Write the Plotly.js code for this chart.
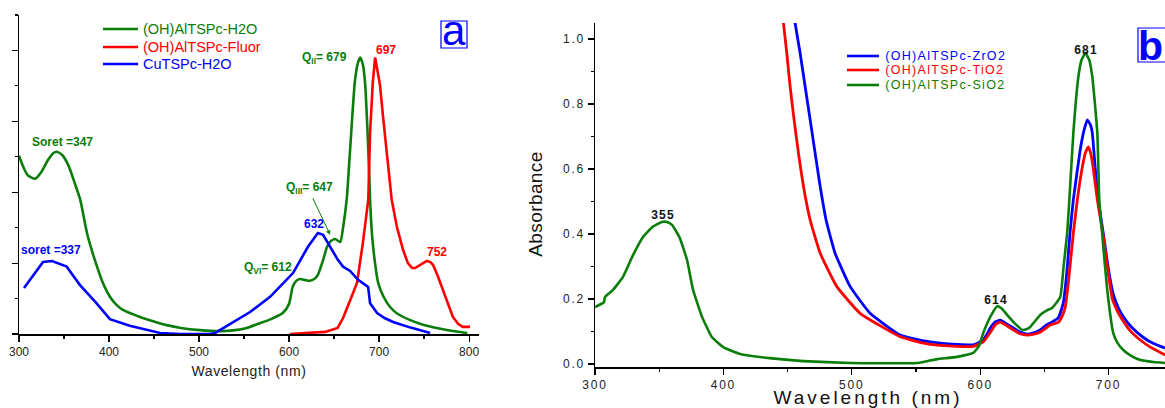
<!DOCTYPE html>
<html><head><meta charset="utf-8">
<script src="https://cdn.plot.ly/plotly-3.0.1.min.js"></script>
<style>
html,body{margin:0;padding:0;background:#fff;}
#chart{width:1165px;height:408px;}
.x2tick text, .y2tick text{letter-spacing:1.8px;}
.x2title{letter-spacing:3px; translate:-12px 0;}
.xtitle{letter-spacing:0.6px;}
.y2title{letter-spacing:0.4px; translate:-5px 9px;}
.annotation[data-index="12"] text, .annotation[data-index="13"] text, .annotation[data-index="14"] text{letter-spacing:1.3px;}
.annotation[data-index="9"] text, .annotation[data-index="10"] text, .annotation[data-index="11"] text{letter-spacing:1.2px;}
</style>
</head><body><div id="chart"></div>
<script>
// ---- Panel a ----
const aGreenX = [300,305,310,318,325,332,338,342,348,355,362,368,375.5,381,386.7,393,401,408,415.6,434.4,450,464,480,501,523,540,553,565,580,593,600,604,608,612,618,623,628,632,638,642,645.6,651,655,657,660,664,667.8,673,676,679,682,684.4,688,690,692,695,699,705,712,720,734,748,764,780,798];
const aGreenY = [0.503,0.47,0.447,0.438,0.458,0.49,0.51,0.514,0.505,0.475,0.425,0.379,0.285,0.235,0.19,0.145,0.105,0.083,0.068,0.048,0.035,0.025,0.017,0.011,0.008,0.011,0.017,0.028,0.042,0.059,0.085,0.133,0.15,0.155,0.152,0.15,0.155,0.167,0.21,0.245,0.26,0.268,0.262,0.26,0.3,0.379,0.52,0.709,0.76,0.78,0.76,0.709,0.52,0.379,0.285,0.21,0.144,0.105,0.077,0.058,0.04,0.027,0.017,0.009,0.003];
const aRedX = [601,620,640,654,660,668,675.5,682,688,690,693,695.6,698,701,704.4,710,714,720,726.7,732,736.7,740,746,753,757,760,765,771,777,782,788,793,801];
const aRedY = [0,0.002,0.006,0.017,0.045,0.096,0.144,0.257,0.379,0.568,0.709,0.78,0.74,0.703,0.613,0.472,0.379,0.3,0.237,0.2,0.186,0.186,0.196,0.206,0.203,0.195,0.165,0.124,0.08,0.048,0.028,0.02,0.02];
const aBlueX = [305.6,317.8,326.7,336.7,353,360,367.8,385,401,423,456.7,479,512,518,535,556.7,578.9,604.4,621,632,637.8,643,649,654,660,667.8,676.7,687.8,690,697.8,706,715.6,735,756.7];
const aBlueY = [0.13,0.172,0.203,0.206,0.19,0.165,0.138,0.09,0.042,0.023,0.003,0,0,0.003,0.03,0.062,0.105,0.172,0.246,0.285,0.28,0.258,0.229,0.21,0.19,0.178,0.153,0.133,0.087,0.059,0.045,0.034,0.018,0.003];
const aNames = ['(OH)AlTSPc-H2O','(OH)AlTSPc-Fluor','CuTSPc-H2O'];

// ---- Panel b ----
const bBlueX = [455.3,455.9,459.8,463.7,467.6,471.5,475.4,480,487,498.8,514.3,537.7,555,569,582,594.6,602.4,608,612,615.7,620,625.8,631,636.7,641,646.8,651,654.6,660.9,664.8,667.5,670,672.6,678,681,683.5,686,687.4,689.7,692,696,700,703.7,708,714.7,722,730,737,744];
const bBlueY = [1.07,1.048,0.956,0.853,0.751,0.648,0.546,0.443,0.341,0.238,0.156,0.089,0.072,0.064,0.06,0.059,0.074,0.111,0.13,0.135,0.125,0.111,0.098,0.092,0.095,0.105,0.118,0.126,0.142,0.188,0.28,0.403,0.505,0.66,0.72,0.751,0.735,0.71,0.6,0.505,0.4,0.29,0.215,0.17,0.128,0.098,0.074,0.06,0.049];
const bRedX = [446.3,446.8,449.4,452,455.1,458.5,462.4,467.6,475.4,488.4,506.5,537.7,555,569,582,594.6,602.4,608,612,615.7,620,625.8,631,636.7,641,646.8,651,654.6,661,663,666.3,669,672.6,675.7,679.6,682,684.3,686,688,691.3,694,696,699.8,703,706.9,711,717,725,732.6,744];
const bRedY = [1.07,1.048,0.956,0.853,0.751,0.648,0.546,0.443,0.341,0.238,0.156,0.084,0.065,0.057,0.054,0.054,0.068,0.098,0.122,0.129,0.12,0.105,0.093,0.089,0.091,0.098,0.11,0.12,0.129,0.14,0.175,0.26,0.403,0.505,0.606,0.65,0.668,0.65,0.606,0.505,0.44,0.39,0.28,0.2,0.163,0.135,0.102,0.073,0.052,0.028];
const bGreenX = [300,306,307,307.8,314,321.8,329.6,337.4,345,352,356,360,366,371.7,376.4,383.4,391,399.8,413,436,462,499,551,560,566.6,582,594.6,599,602.4,607.9,613.3,617,621,627,632.8,636,639,646.8,652,656,662.4,665,667.8,669.5,672.6,676.5,679,682,685,687.4,691.3,692.8,695,699,703.7,707,711.5,718,724.8,735,744];
const bGreenY = [0.175,0.187,0.19,0.206,0.228,0.268,0.335,0.391,0.422,0.437,0.437,0.428,0.388,0.32,0.228,0.145,0.083,0.052,0.031,0.018,0.009,0.003,0.003,0.01,0.015,0.022,0.034,0.055,0.095,0.145,0.178,0.17,0.151,0.125,0.105,0.107,0.114,0.151,0.165,0.172,0.206,0.3,0.403,0.505,0.71,0.883,0.935,0.957,0.935,0.883,0.71,0.505,0.403,0.228,0.095,0.065,0.043,0.024,0.012,0.006,0.003];
const bNames = ['(OH)AlTSPc-ZrO2','(OH)AlTSPc-TiO2','(OH)AlTSPc-SiO2'];

const GREEN = '#0a7d0a', RED = '#ff0000', BLUE = '#0000ff';
const FONT = 'Arial, "Liberation Sans", sans-serif';
const W = 1165, H = 408;
const px = v => v / W, py = v => (H - v) / H;

const aColors = [GREEN, RED, BLUE];
const bColors = [BLUE, RED, GREEN];

const traces = [
  {x:aGreenX, y:aGreenY, xaxis:'x', yaxis:'y', mode:'lines', name:aNames[0], line:{color:GREEN,width:2.6,shape:'spline',smoothing:0.6}},
  {x:aRedX, y:aRedY, xaxis:'x', yaxis:'y', mode:'lines', name:aNames[1], line:{color:RED,width:2.6}},
  {x:aBlueX, y:aBlueY, xaxis:'x', yaxis:'y', mode:'lines', name:aNames[2], line:{color:BLUE,width:2.6}},
  {x:bBlueX, y:bBlueY, xaxis:'x2', yaxis:'y2', mode:'lines', name:bNames[0], line:{color:BLUE,width:2.8,shape:'spline',smoothing:0.4}},
  {x:bRedX, y:bRedY, xaxis:'x2', yaxis:'y2', mode:'lines', name:bNames[1], line:{color:RED,width:2.8,shape:'spline',smoothing:0.4}},
  {x:bGreenX, y:bGreenY, xaxis:'x2', yaxis:'y2', mode:'lines', name:bNames[2], line:{color:GREEN,width:2.6,shape:'spline',smoothing:0.4}}
];

const axisBase = {showgrid:false, zeroline:false, showline:true, linecolor:'#000', linewidth:1.5,
  ticks:'outside', ticklen:6, tickwidth:1.2, tickcolor:'#000',
  tickfont:{family:FONT, size:12, color:'#222'}};

const annotations = [
  {xref:'x',yref:'y',x:347.8,y:0.542,text:'<b>Soret =347</b>',showarrow:false,font:{family:FONT,size:12,color:GREEN}},
  {xref:'x',yref:'y',x:335.5,y:0.237,text:'<b>soret =337</b>',showarrow:false,font:{family:FONT,size:12,color:BLUE}},
  {xref:'x',yref:'y',x:576.7,y:0.186,text:'<b>Q<sub>VI</sub>= 612</b>',showarrow:false,font:{family:FONT,size:12,color:GREEN}},
  {xref:'x',yref:'y',x:627.8,y:0.311,text:'<b>632</b>',showarrow:false,font:{family:FONT,size:12,color:BLUE}},
  {xref:'x',yref:'y',x:623,y:0.412,text:'<b>Q<sub>III</sub>= 647</b>',showarrow:false,font:{family:FONT,size:12,color:GREEN}},
  {xref:'x',yref:'y',x:645.6,y:0.28,ax:-18,ay:-38,text:'',showarrow:true,arrowhead:2,arrowsize:0.9,arrowwidth:1,arrowcolor:GREEN,standoff:0},
  {xref:'x',yref:'y',x:639,y:0.78,text:'<b>Q<sub>II</sub>= 679</b>',showarrow:false,font:{family:FONT,size:12,color:GREEN}},
  {xref:'x',yref:'y',x:707.8,y:0.8,text:'<b>697</b>',showarrow:false,font:{family:FONT,size:12,color:RED}},
  {xref:'x',yref:'y',x:764,y:0.232,text:'<b>752</b>',showarrow:false,font:{family:FONT,size:12,color:RED}},
  {xref:'x2',yref:'y2',x:353,y:0.458,text:'<b>355</b>',showarrow:false,font:{family:FONT,size:12,color:'#111'}},
  {xref:'x2',yref:'y2',x:612.5,y:0.197,text:'<b>614</b>',showarrow:false,font:{family:FONT,size:12,color:'#111'}},
  {xref:'x2',yref:'y2',x:682.7,y:0.966,text:'<b>681</b>',showarrow:false,font:{family:FONT,size:12,color:'#111'}}
];
// legend of panel b (indices 12-14), panel a (15-17)
const bRows = [56, 70, 85], aRows = [29, 47, 64];
const shapes = [];
bNames.forEach((n, i) => {
  annotations.push({xref:'paper',yref:'paper',x:px(893),y:py(bRows[i]),xanchor:'left',yanchor:'middle',text:n,showarrow:false,font:{family:FONT,size:12.5,color:bColors[i]}});
  shapes.push({type:'line',xref:'paper',yref:'paper',x0:px(847),x1:px(879),y0:py(bRows[i]),y1:py(bRows[i]),line:{color:bColors[i],width:2.6}});
});
aNames.forEach((n, i) => {
  annotations.push({xref:'paper',yref:'paper',x:px(141),y:py(aRows[i]),xanchor:'left',yanchor:'middle',text:n,showarrow:false,font:{family:FONT,size:14.5,color:aColors[i]}});
  shapes.push({type:'line',xref:'paper',yref:'paper',x0:px(103),x1:px(138),y0:py(aRows[i]),y1:py(aRows[i]),line:{color:aColors[i],width:2.6}});
});
// panel labels
shapes.push({type:'rect',xref:'paper',yref:'paper',x0:px(441),x1:px(467),y0:py(48),y1:py(21),line:{color:BLUE,width:1.2},fillcolor:'rgba(0,0,0,0)'});
shapes.push({type:'rect',xref:'paper',yref:'paper',x0:px(1138),x1:px(1180),y0:py(62),y1:py(28),line:{color:BLUE,width:1.2},fillcolor:'rgba(0,0,0,0)'});
annotations.push({xref:'paper',yref:'paper',x:px(454),y:py(31),xanchor:'center',yanchor:'middle',text:'a',showarrow:false,font:{family:FONT,size:42,color:BLUE}});
annotations.push({xref:'paper',yref:'paper',x:px(1136),y:py(45.5),xanchor:'left',yanchor:'middle',text:'<b>b</b>',showarrow:false,font:{family:FONT,size:41,color:BLUE}});

const layout = {
  width:W, height:H, margin:{l:0,r:0,t:0,b:0},
  paper_bgcolor:'#fff', plot_bgcolor:'rgba(0,0,0,0)', font:{family:FONT},
  showlegend:false,
  xaxis: Object.assign({}, axisBase, {domain:[px(19), px(479)], range:[300,811], dtick:100, tick0:300,
     minor:{dtick:50, ticklen:3, ticks:'outside', tickcolor:'#000'}, anchor:'y',
     title:{text:'Wavelength (nm)', font:{family:FONT,size:14,color:'#222'}, standoff:8}}),
  yaxis: Object.assign({}, axisBase, {domain:[74/H, 393/H], range:[0,0.9], dtick:0.2, tick0:0, showticklabels:false,
     minor:{dtick:0.1, ticklen:3, ticks:'outside', tickcolor:'#000'}, anchor:'x'}),
  xaxis2: Object.assign({}, axisBase, {domain:[px(595), 1], range:[300,744], dtick:100, tick0:300,
     minor:{dtick:50, ticklen:3, ticks:'outside', tickcolor:'#000'}, anchor:'y2',
     title:{text:'Wavelength (nm)', font:{family:FONT,size:19,color:'#111'}, standoff:2}}),
  yaxis2: Object.assign({}, axisBase, {domain:[41/H, 385/H], range:[-0.0092,1.049], dtick:0.2, tick0:0, tickformat:'.1f',
     minor:{dtick:0.1, ticklen:3, ticks:'outside', tickcolor:'#000'}, anchor:'x2',
     title:{text:'Absorbance', font:{family:FONT,size:19,color:'#111'}}}),
  annotations: annotations,
  shapes: shapes
};

Plotly.newPlot('chart', traces, layout, {staticPlot:true, displayModeBar:false});
</script></body></html>
